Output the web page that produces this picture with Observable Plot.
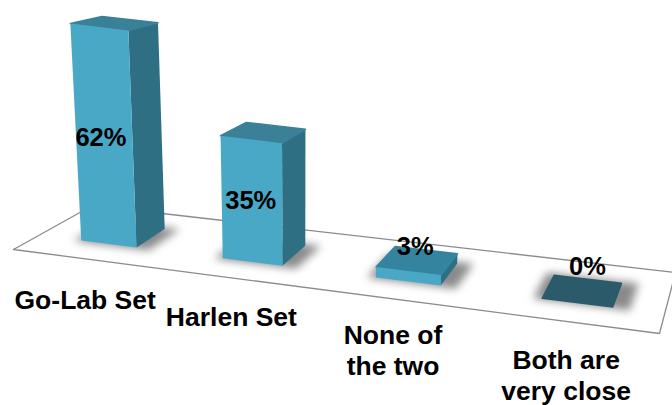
<!DOCTYPE html>
<html>
<head>
<meta charset="utf-8">
<script src="https://cdn.jsdelivr.net/npm/d3@7"></script>
<script src="https://cdn.jsdelivr.net/npm/@observablehq/plot@0.6"></script>
<style>html,body{margin:0;padding:0;background:#fff}svg{display:block}</style>
</head>
<body>
<div id="chart"></div>
<script>
const categories = ["Go-Lab Set", "Harlen Set", "None of\nthe two", "Both are\nvery close"];
const values = [62, 35, 3, 0];

// Floor of the 3D scene and a perspective map from floor space to screen units
const corners = [[13, 249], [659, 333], [675, 272], [92, 205]];
function homography([[x0,y0],[x1,y1],[x2,y2],[x3,y3]]) {
  const dx1=x1-x2, dx2=x3-x2, sx=x0-x1+x2-x3, dy1=y1-y2, dy2=y3-y2, sy=y0-y1+y2-y3;
  const den=dx1*dy2-dx2*dy1;
  const g=(sx*dy2-dx2*sy)/den, h=(dx1*sy-sx*dy1)/den;
  const a=x1-x0+g*x1, b=x3-x0+h*x3, d=y1-y0+g*y1, e=y3-y0+h*y3;
  return (u,v)=>{const w=g*u+h*v+1; return [(a*u+b*v+x0)/w,(d*u+e*v+y0)/w];};
}
const floor = homography(corners);
const unitsPerPct = 3.5, depthShrink = 0.125, lean = 0.0008, leanX = 300;
const vFront = 0.3, vBack = 0.7, halfW = 0.05;
function project(u, v, pct) {
  const [x, y] = floor(u, v);
  return {x: x + (x - leanX) * lean * pct,
          y: y - pct * unitsPerPct * (1 - depthShrink * (v - vFront))};
}
const uOf = i => (i + 0.5) / 4 + 0.0035;

const poly = (face) => values.flatMap((val, i) => {
  const u0 = uOf(i) - halfW, u1 = uOf(i) + halfW;
  const pts = {
    front: [[u0,vFront,val],[u1,vFront,val],[u1,vFront,0],[u0,vFront,0]],
    side:  [[u1,vFront,val],[u1,vBack,val],[u1,vBack,0],[u1,vFront,0]],
    top:   [[u0,vFront,val],[u1,vFront,val],[u1,vBack,val],[u0,vBack,val]],
    shadow:[[u0-0.012,vFront-0.02,0],[u1+0.024,vFront-0.02,0],[u1+0.024,vBack+0.03,0],[u0-0.012,vBack+0.03,0]]
  }[face];
  return pts.map(([u,v,p]) => ({bar:i, val, ...project(u,v,p)}));
});

const floorPts = [[0,0],[1,0],[1,1],[0,1]].map(([u,v]) => project(u,v,0));

const valueShift = [[-3,2],[-1,0],[-2,-24],[5,-24]];
const valueLabels = values.map((val,i) => {
  const tall = val >= 10;
  const p = project(uOf(i), tall ? vFront : 0.5, tall ? val/2 : 0);
  return {x: p.x + valueShift[i][0], y: p.y + valueShift[i][1], text: val + "%"};
});
const labelShift = [[-23.5,43],[-21,42],[-15,41],[-11,45]];
const catLabels = categories.map((c,i) => {
  const p = project(uOf(i), vFront, 0);
  return {x: p.x + labelShift[i][0], y: p.y + labelShift[i][1], text: c};
});

const font = "Liberation Sans, Arial, sans-serif";
const soft = "blur(0.5px)";
const chart = Plot.plot({
  width: 672, height: 405,
  margin: 0,
  x: {domain:[0,672], range:[0,672], axis:null},
  y: {domain:[0,405], range:[0,405], axis:null},
  color: {type:"identity"},
  marks: [
    Plot.line(floorPts, {x:"x", y:"y", curve:"linear-closed", stroke:"#8c8c8c", strokeWidth:1.3, fill:"#fff", imageFilter:soft}),
    Plot.line(poly("shadow"), {x:"x", y:"y", z:"bar", curve:"linear-closed", stroke:"none", fill:"#8a8a8a", imageFilter:"blur(4px)"}),
    Plot.line(poly("side"), {x:"x", y:"y", z:"bar", curve:"linear-closed", stroke:"none", fill:"#2f6f84", imageFilter:soft}),
    Plot.line(poly("top"), {x:"x", y:"y", z:"bar", curve:"linear-closed", strokeLinejoin:"round", strokeWidth:1.5,
      stroke:d => d.val === 0 ? "#2b5b6b" : d.val < 10 ? "#35849f" : "#3a8198",
      fill:d => d.val === 0 ? "#2b5b6b" : d.val < 10 ? "#35849f" : "#3a8198", imageFilter:soft}),
    Plot.line(poly("front"), {x:"x", y:"y", z:"bar", curve:"linear-closed", stroke:"none", fill:"#4aa8c7", imageFilter:soft}),
    Plot.text(valueLabels, {x:"x", y:"y", text:"text", fontFamily:font, fontWeight:"bold", fontSize:25.5, fill:"#000"}),
    Plot.text(catLabels, {x:"x", y:"y", text:"text", lineAnchor:"top", lineHeight:1.15, fontFamily:font, fontWeight:"bold", fontSize:26.5, fill:"#000"})
  ]
});
document.getElementById("chart").appendChild(chart);
</script>
</body>
</html>
